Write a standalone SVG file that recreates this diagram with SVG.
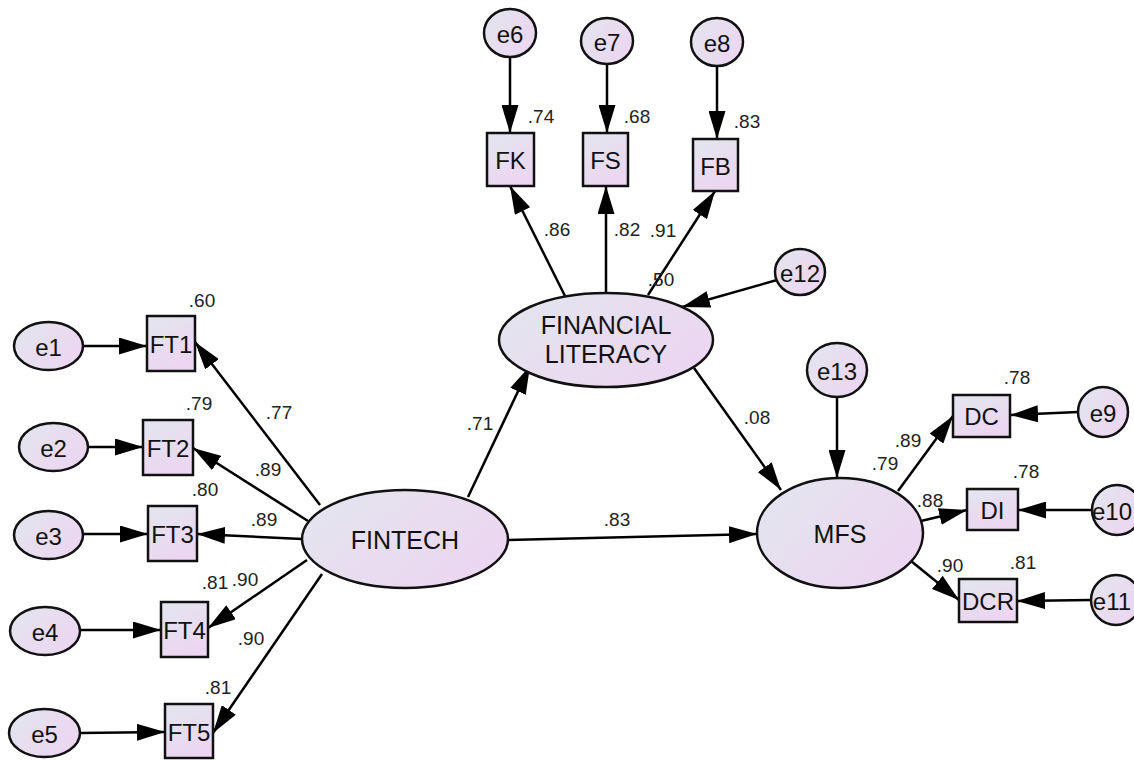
<svg xmlns="http://www.w3.org/2000/svg" width="1134" height="760" viewBox="0 0 1134 760">
<defs>
<linearGradient id="g" x1="0" y1="0" x2="1" y2="0.6">
<stop offset="0" stop-color="#e2e6ee"/>
<stop offset="1" stop-color="#ecd6f1"/>
</linearGradient>
<linearGradient id="gb" x1="0" y1="0" x2="0.4" y2="1">
<stop offset="0" stop-color="#e2e6ee"/>
<stop offset="1" stop-color="#ecd6f1"/>
</linearGradient>
<marker id="ah" viewBox="0 0 28 17" refX="28" refY="8.5" markerWidth="28" markerHeight="17" markerUnits="userSpaceOnUse" orient="auto">
<path d="M0,0 L28,8.5 L0,17 z" fill="#000"/>
</marker>
</defs>
<style>
.n{fill:url(#g);stroke:#111;stroke-width:2.5}
.b{fill:url(#gb);stroke:#111;stroke-width:2.5}
.t{font-family:"Liberation Sans",Arial,sans-serif;font-size:24px;fill:#111;text-anchor:middle;dominant-baseline:central}
.big{font-size:25px}
.l{font-family:"Liberation Sans",Arial,sans-serif;font-size:19px;fill:#222;text-anchor:middle;dominant-baseline:central}
.c line{stroke:#000;stroke-width:2.5;marker-end:url(#ah)}
</style>
<rect width="1134" height="760" fill="#fff"/>
<g class="c" id="connectors">
<line x1="83" y1="346" x2="147" y2="346"/>
<line x1="88" y1="447" x2="143" y2="447"/>
<line x1="83" y1="534" x2="148" y2="534"/>
<line x1="80" y1="630" x2="161" y2="630"/>
<line x1="80" y1="733" x2="165" y2="732"/>
<line x1="320" y1="505" x2="195" y2="342"/>
<line x1="308" y1="521" x2="193" y2="448"/>
<line x1="302" y1="539" x2="197" y2="534"/>
<line x1="307" y1="560" x2="208" y2="628"/>
<line x1="322" y1="574" x2="213" y2="733"/>
<line x1="468" y1="497" x2="530" y2="366"/>
<line x1="507" y1="540" x2="757" y2="534"/>
<line x1="694" y1="368" x2="781" y2="490"/>
<line x1="565" y1="296" x2="510" y2="186"/>
<line x1="606" y1="293" x2="606" y2="186"/>
<line x1="648" y1="295" x2="715" y2="191"/>
<line x1="510" y1="57" x2="510" y2="133"/>
<line x1="607" y1="65" x2="607" y2="133"/>
<line x1="717" y1="67" x2="717" y2="139"/>
<line x1="777" y1="280" x2="682" y2="307"/>
<line x1="837" y1="398" x2="837" y2="478"/>
<line x1="898" y1="491" x2="953" y2="416"/>
<line x1="921" y1="521" x2="967" y2="510"/>
<line x1="911" y1="561" x2="959" y2="600"/>
<line x1="1078" y1="412" x2="1010" y2="415"/>
<line x1="1092" y1="510" x2="1018" y2="510"/>
<line x1="1091" y1="600" x2="1017" y2="601"/>
</g>
<g id="e1"><ellipse class="n" cx="48.5" cy="346" rx="34.5" ry="24"/><text class="t" x="48.5" y="347">e1</text></g>
<g id="e2"><ellipse class="n" cx="53.5" cy="447" rx="34.5" ry="24"/><text class="t" x="53.5" y="448">e2</text></g>
<g id="e3"><ellipse class="n" cx="48.5" cy="535" rx="34.5" ry="24"/><text class="t" x="48.5" y="536">e3</text></g>
<g id="e4"><ellipse class="n" cx="45" cy="631" rx="35" ry="24"/><text class="t" x="45" y="632">e4</text></g>
<g id="e5"><ellipse class="n" cx="44.5" cy="733" rx="35.5" ry="24"/><text class="t" x="44.5" y="734">e5</text></g>
<g id="FT1"><rect class="b" x="147" y="316" width="48" height="55"/><text class="t" x="171" y="344">FT1</text></g>
<g id="FT2"><rect class="b" x="143" y="420" width="50" height="55"/><text class="t" x="168" y="448">FT2</text></g>
<g id="FT3"><rect class="b" x="148" y="506" width="49" height="55"/><text class="t" x="172.5" y="534">FT3</text></g>
<g id="FT4"><rect class="b" x="161" y="602" width="47" height="55"/><text class="t" x="184.5" y="630">FT4</text></g>
<g id="FT5"><rect class="b" x="165" y="704" width="48" height="54"/><text class="t" x="189" y="732">FT5</text></g>
<g id="FINTECH"><ellipse class="n" cx="405" cy="539" rx="103" ry="49"/><text class="t big" x="405" y="540">FINTECH</text></g>
<g id="FINANCIAL_LITERACY"><ellipse class="n" cx="606" cy="340" rx="107" ry="47"/><text class="t big" x="606" y="325">FINANCIAL</text><text class="t big" x="606" y="354">LITERACY</text></g>
<g id="MFS"><ellipse class="n" cx="840" cy="533" rx="83" ry="55"/><text class="t big" x="840" y="534">MFS</text></g>
<g id="e6"><ellipse class="n" cx="510" cy="33" rx="26" ry="24"/><text class="t" x="510" y="34">e6</text></g>
<g id="e7"><ellipse class="n" cx="607" cy="41" rx="26" ry="23"/><text class="t" x="607" y="42">e7</text></g>
<g id="e8"><ellipse class="n" cx="717" cy="42" rx="26" ry="24"/><text class="t" x="717" y="43">e8</text></g>
<g id="FK"><rect class="b" x="487" y="133" width="47" height="53"/><text class="t" x="510.5" y="160">FK</text></g>
<g id="FS"><rect class="b" x="583" y="133" width="45" height="53"/><text class="t" x="605.5" y="160">FS</text></g>
<g id="FB"><rect class="b" x="693" y="139" width="45" height="52"/><text class="t" x="715.5" y="166">FB</text></g>
<g id="e12"><ellipse class="n" cx="800" cy="272" rx="25" ry="23"/><text class="t" x="800" y="273">e12</text></g>
<g id="e13"><ellipse class="n" cx="837" cy="370" rx="30" ry="27"/><text class="t" x="837" y="371">e13</text></g>
<g id="DC"><rect class="b" x="953" y="395" width="57" height="42"/><text class="t" x="981.5" y="416">DC</text></g>
<g id="DI"><rect class="b" x="967" y="489" width="51" height="41"/><text class="t" x="992.5" y="510">DI</text></g>
<g id="DCR"><rect class="b" x="959" y="579" width="58" height="43"/><text class="t" x="988" y="601">DCR</text></g>
<g id="e9"><ellipse class="n" cx="1103" cy="412" rx="25" ry="25"/><text class="t" x="1103" y="413">e9</text></g>
<g id="e10"><ellipse class="n" cx="1117" cy="510" rx="25" ry="25"/><text class="t" x="1112" y="511">e10</text></g>
<g id="e11"><ellipse class="n" cx="1116" cy="600" rx="25" ry="25"/><text class="t" x="1112" y="601">e11</text></g>
<g id="labels">
<text class="l" x="202" y="300">.60</text>
<text class="l" x="279" y="412">.77</text>
<text class="l" x="199" y="403">.79</text>
<text class="l" x="268" y="469">.89</text>
<text class="l" x="205" y="489">.80</text>
<text class="l" x="264" y="519">.89</text>
<text class="l" x="215" y="582">.81</text>
<text class="l" x="245" y="579">.90</text>
<text class="l" x="251" y="638">.90</text>
<text class="l" x="218" y="687">.81</text>
<text class="l" x="480" y="423">.71</text>
<text class="l" x="617" y="519">.83</text>
<text class="l" x="757" y="417">.08</text>
<text class="l" x="541" y="116">.74</text>
<text class="l" x="637" y="116">.68</text>
<text class="l" x="747" y="121">.83</text>
<text class="l" x="557" y="229">.86</text>
<text class="l" x="627" y="229">.82</text>
<text class="l" x="663" y="230">.91</text>
<text class="l" x="661" y="279">.50</text>
<text class="l" x="1017" y="377">.78</text>
<text class="l" x="908" y="440">.89</text>
<text class="l" x="885" y="463">.79</text>
<text class="l" x="1026" y="471">.78</text>
<text class="l" x="930" y="500">.88</text>
<text class="l" x="950" y="565">.90</text>
<text class="l" x="1023" y="562">.81</text>
</g>
</svg>
